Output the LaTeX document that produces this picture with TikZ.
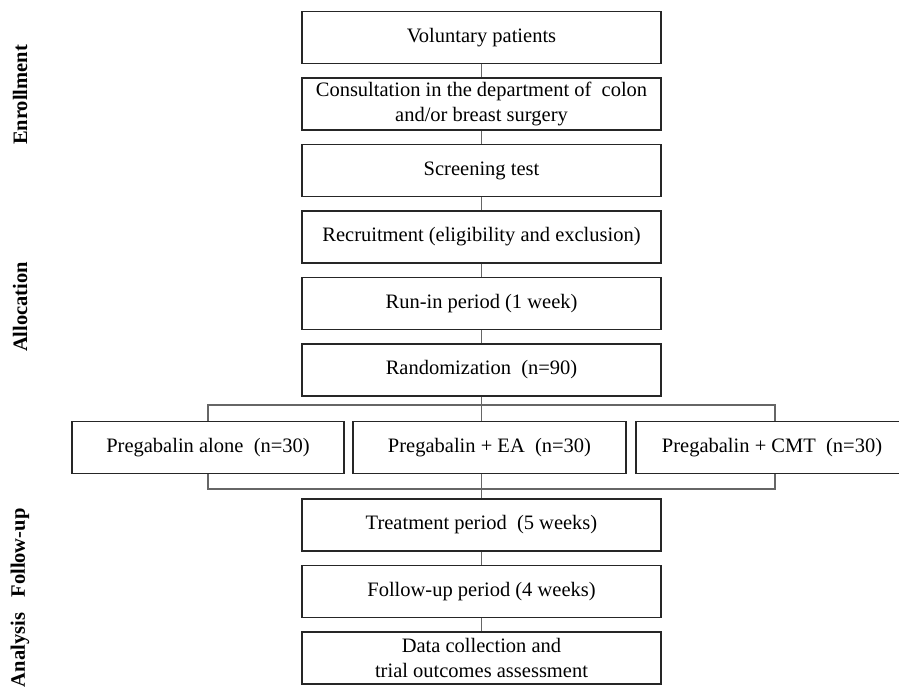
\documentclass[tikz,border=0pt]{standalone}
\usepackage{fontspec}
\setmainfont{Liberation Serif}
\usetikzlibrary{positioning}

\begin{document}
\begin{tikzpicture}[x=1pt,y=-1pt,node distance=13pt,
  box/.style={draw=black!85,line width=1.5pt,minimum width=359pt,minimum height=52pt,align=center,inner sep=2pt,font=\fontsize{20.5}{25}\selectfont},
  grp/.style={box,minimum width=272pt},
  link/.style={draw=black!60,line width=1.1pt},
  phase/.style={rotate=90,font=\fontsize{20.5}{25}\selectfont\bfseries}]
\useasboundingbox (0,0) rectangle (899,691);

% main column
\node[box] (vol) at (481.5,37.5) {Voluntary patients};
\node[box,below=of vol] (cons) {Consultation in the department of~ colon\\and/or breast surgery};
\node[box,below=of cons] (scr) {Screening test};
\node[box,below=of scr] (rec) {Recruitment (eligibility and exclusion)};
\node[box,below=of rec] (run) {Run-in period (1 week)};
\node[box,below=of run] (rand) {Randomization~ (n=90)};

% groups
\node[grp] (g1) at (208,447.5) {Pregabalin alone~ (n=30)};
\node[grp,minimum width=273pt] (g2) at (489.5,447.5) {Pregabalin + EA~ (n=30)};
\node[grp] (g3) at (772,447.5) {Pregabalin + CMT~ (n=30)};

\node[box] (treat) at (481.5,525) {Treatment period~ (5 weeks)};
\node[box,below=of treat] (fol) {Follow-up period (4 weeks)};
\node[box,below=of fol] (data) {Data collection and\\trial outcomes assessment};

\coordinate (lt) at (208,405);
\coordinate (rt) at (775,405);
\coordinate (lb) at (208,489);
\coordinate (rb) at (775,489);

\draw[link] (vol) -- (cons);
\draw[link] (cons) -- (scr);
\draw[link] (scr) -- (rec);
\draw[link] (rec) -- (run);
\draw[link] (run) -- (rand);
\draw[link] (rand) -- (rand |- g2.north);
\draw[link] (g1.north -| lt) -- (lt) -- (rt) -- (g3.north -| rt);
\draw[link] (g1.south -| lb) -- (lb) -- (rb) -- (g3.south -| rb);
\draw[link] (g2.south -| treat) -- (treat);
\draw[link] (treat) -- (fol);
\draw[link] (fol) -- (data);

% phases
\node[phase] (enr) at (20,95) {Enrollment};
\node[phase] (alloc) at (20,307) {Allocation};
\node[phase] (fup) at (20,553) {Follow-up};
\node[phase] (ana) at (20,650) {Analysis};

\end{tikzpicture}
\end{document}
